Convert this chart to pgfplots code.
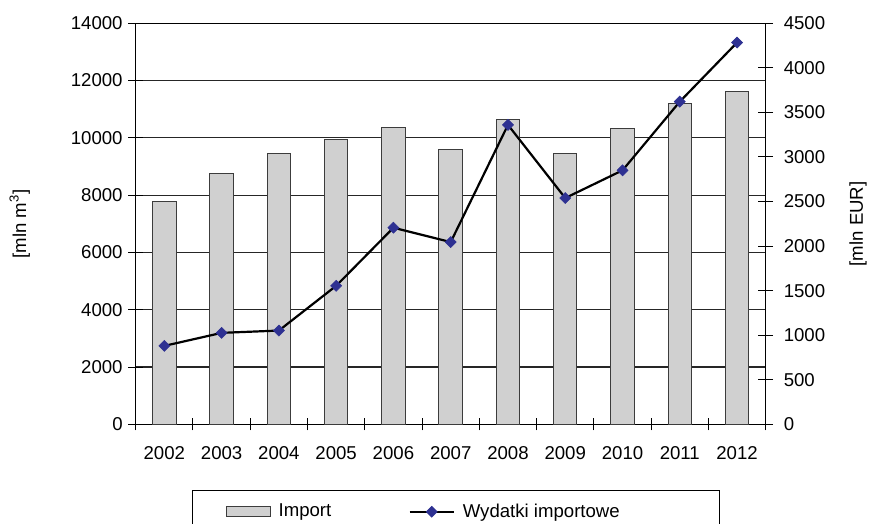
\documentclass[border=0pt]{standalone}
\usepackage{pgfplots}
\pgfplotsset{compat=1.18}
\usepackage{fontspec}
\setmainfont{Liberation Sans}

\definecolor{bargray}{RGB}{208,208,208}
\definecolor{barline}{RGB}{60,60,60}
\definecolor{markblue}{RGB}{46,49,146}

\pgfplotsset{
  rectlegend/.style={legend image code/.code={\draw[##1] (0bp,-2.4bp) rectangle (22bp,2.4bp);}},
  linelegend/.style={legend image code/.code={\draw[mark repeat=2,mark phase=2,##1]
    plot coordinates {(0bp,0bp) (11bp,0bp) (22bp,0bp)};}},
}

\begin{document}
\fontsize{9.3bp}{11bp}\selectfont
\begin{tikzpicture}
% Import volume [mln m3], left axis
\begin{axis}[
  name=main,
  set layers,
  at={(0,0)}, anchor=south west,
  scale only axis,
  width=315bp, height=200.5bp,
  xmin=-0.5, xmax=10.5,
  ymin=0, ymax=14000,
  ytick={0,2000,...,14000},
  xtick={0,...,10},
  xticklabels={2002,2003,2004,2005,2006,2007,2008,2009,2010,2011,2012},
  minor xtick={-0.5,0.5,...,10.5},
  major x tick style={draw=none},
  tick align=center,
  major tick length=7.5bp,
  minor tick length=6bp,
  xtick pos=bottom, ytick pos=left,
  scaled y ticks=false,
  /pgf/number format/assume math mode=true,
  /pgf/number format/set thousands separator={},
  ymajorgrids,
  major grid style={black!85, line width=0.6bp},
  axis line style={black, line width=0.6bp},
  tick style={black, line width=0.5bp},
  yticklabel style={anchor=east, xshift=0.5bp},
  xticklabel style={anchor=north, yshift=-4bp},
  ylabel={[mln m\textsuperscript{3}]},
  every axis y label/.style={at={(axis description cs:-0.184,0.5)}, rotate=90, anchor=center},
]
\addplot[ybar, bar width=0.41, fill=bargray, draw=barline, line width=0.5bp]
  coordinates {(0,7780) (1,8740) (2,9450) (3,9930) (4,10360) (5,9610)
               (6,10640) (7,9440) (8,10330) (9,11190) (10,11620)};
\end{axis}
% Import expenditure [mln EUR], right axis
\begin{axis}[
  at={(0,0)}, anchor=south west,
  scale only axis,
  width=315bp, height=200.5bp,
  xmin=-0.5, xmax=10.5,
  ymin=0, ymax=4500,
  ytick={0,500,...,4500},
  axis x line=none,
  axis y line*=right,
  tick align=center,
  major tick length=7.5bp,
  scaled y ticks=false,
  /pgf/number format/assume math mode=true,
  /pgf/number format/set thousands separator={},
  axis line style={black, line width=0.6bp},
  tick style={black, line width=0.5bp},
  yticklabel style={anchor=west, xshift=2bp},
  ylabel={[mln EUR]},
  every axis y label/.style={at={(axis description cs:1.1465,0.5)}, rotate=90, anchor=center},
  legend style={
    at={(axis description cs:0.0894,-0.1638)}, anchor=north west,
    draw=black, line width=0.6bp,
    inner xsep=16.5bp, inner ysep=6.5bp,
    nodes={inner sep=0pt},
    /tikz/every odd column/.append style={column sep=4bp},
  },
  legend columns=2,
  legend cell align=left,
]
\addlegendimage{fill=bargray, draw=barline, line width=0.5bp, rectlegend}
\addlegendentry{\makebox[65bp][l]{Import}}
\addplot[black, line width=1.1bp, mark=square*,
  mark options={rotate=45, fill=markblue, draw=markblue, line width=0.3bp},
  mark size=1.95bp, linelegend]
  coordinates {(0,880) (1,1026) (2,1052) (3,1554) (4,2206) (5,2045)
               (6,3360) (7,2539) (8,2850) (9,3621) (10,4284)};
\addlegendentry{\makebox[112bp][l]{Wydatki importowe}}
\end{axis}
\pgfresetboundingbox
\useasboundingbox (-67.85bp,-49.85bp) rectangle (375.65bp,212.15bp);
\end{tikzpicture}
\end{document}
